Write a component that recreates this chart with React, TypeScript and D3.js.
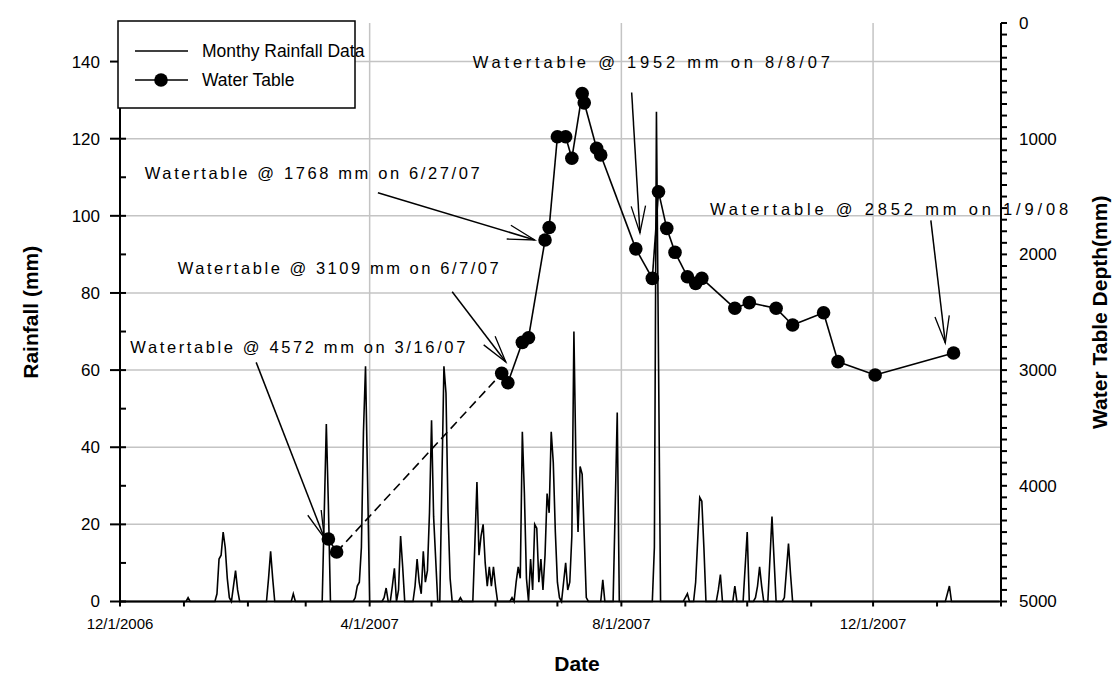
import React from "react";
import * as d3 from "d3";

// ---- data ----
const parseDay = d3.utcParse("%Y-%m-%d");

// Daily rainfall (mm); days not listed had no rain
const rainfallDays: [string, number][] = [
  ["2007-01-03", 1], ["2007-01-17", 2], ["2007-01-18", 11], ["2007-01-19", 12],
  ["2007-01-20", 18], ["2007-01-21", 14], ["2007-01-22", 6], ["2007-01-23", 1],
  ["2007-01-25", 4], ["2007-01-26", 8], ["2007-01-27", 3],
  ["2007-02-11", 6], ["2007-02-12", 13], ["2007-02-13", 6], ["2007-02-23", 2],
  ["2007-03-10", 23], ["2007-03-11", 46], ["2007-03-12", 25],
  ["2007-03-25", 1], ["2007-03-26", 4], ["2007-03-27", 5], ["2007-03-28", 14],
  ["2007-03-29", 44], ["2007-03-30", 61], ["2007-03-31", 31],
  ["2007-04-08", 1], ["2007-04-09", 3.5], ["2007-04-12", 4], ["2007-04-13", 8.6],
  ["2007-04-15", 3], ["2007-04-16", 17], ["2007-04-17", 9],
  ["2007-04-23", 4], ["2007-04-24", 11], ["2007-04-25", 5], ["2007-04-26", 2],
  ["2007-04-27", 13], ["2007-04-28", 5], ["2007-04-29", 8], ["2007-04-30", 23],
  ["2007-05-01", 47], ["2007-05-02", 22], ["2007-05-03", 11],
  ["2007-05-06", 31], ["2007-05-07", 61], ["2007-05-08", 54], ["2007-05-09", 23],
  ["2007-05-10", 6], ["2007-05-15", 1],
  ["2007-05-22", 15], ["2007-05-23", 31], ["2007-05-24", 12], ["2007-05-25", 17],
  ["2007-05-26", 20], ["2007-05-27", 10], ["2007-05-28", 4], ["2007-05-29", 9],
  ["2007-05-30", 4], ["2007-05-31", 9], ["2007-06-01", 4],
  ["2007-06-09", 1], ["2007-06-11", 5], ["2007-06-12", 9], ["2007-06-13", 6],
  ["2007-06-14", 44], ["2007-06-15", 28], ["2007-06-16", 6],
  ["2007-06-18", 11], ["2007-06-19", 3], ["2007-06-20", 20], ["2007-06-21", 19],
  ["2007-06-22", 5], ["2007-06-23", 11], ["2007-06-24", 3], ["2007-06-25", 12],
  ["2007-06-26", 28], ["2007-06-27", 23], ["2007-06-28", 44], ["2007-06-29", 36],
  ["2007-06-30", 18], ["2007-07-01", 5], ["2007-07-02", 1],
  ["2007-07-04", 5], ["2007-07-05", 10], ["2007-07-06", 3], ["2007-07-07", 5],
  ["2007-07-08", 17], ["2007-07-09", 70], ["2007-07-10", 35], ["2007-07-11", 18],
  ["2007-07-12", 35], ["2007-07-13", 33], ["2007-07-14", 17], ["2007-07-15", 1],
  ["2007-07-23", 5.6], ["2007-07-29", 24], ["2007-07-30", 49],
  ["2007-08-17", 14], ["2007-08-18", 127], ["2007-08-19", 63],
  ["2007-09-01", 1], ["2007-09-02", 2],
  ["2007-09-06", 5], ["2007-09-07", 16], ["2007-09-08", 27], ["2007-09-09", 26],
  ["2007-09-10", 14], ["2007-09-17", 3], ["2007-09-18", 7], ["2007-09-25", 4],
  ["2007-09-30", 9], ["2007-10-01", 18],
  ["2007-10-05", 1], ["2007-10-06", 4], ["2007-10-07", 9], ["2007-10-08", 4],
  ["2007-10-12", 11], ["2007-10-13", 22], ["2007-10-14", 11],
  ["2007-10-19", 1], ["2007-10-20", 8], ["2007-10-21", 15], ["2007-10-22", 7],
  ["2008-01-06", 2], ["2008-01-07", 4],
];

// Water table depth below surface (mm)
const waterTable: [string, number][] = [
  ["2007-03-12", 4460], ["2007-03-16", 4572],
  ["2007-06-04", 3028], ["2007-06-07", 3109], ["2007-06-14", 2760],
  ["2007-06-17", 2720], ["2007-06-25", 1876], ["2007-06-27", 1768],
  ["2007-07-01", 983], ["2007-07-05", 983], ["2007-07-08", 1169],
  ["2007-07-13", 610], ["2007-07-14", 690], ["2007-07-20", 1083],
  ["2007-07-22", 1141], ["2007-08-08", 1952], ["2007-08-16", 2207],
  ["2007-08-19", 1458], ["2007-08-23", 1775], ["2007-08-27", 1982],
  ["2007-09-02", 2193], ["2007-09-06", 2250], ["2007-09-09", 2207],
  ["2007-09-25", 2466], ["2007-10-02", 2417], ["2007-10-15", 2466],
  ["2007-10-23", 2610], ["2007-11-07", 2504], ["2007-11-14", 2927],
  ["2007-12-02", 3042], ["2008-01-09", 2852],
];

const rainTicks = [0, 20, 40, 60, 80, 100, 120, 140];
const depthTicks = [0, 1000, 2000, 3000, 4000, 5000];
const dateTicks = ["2006-12-01", "2007-04-01", "2007-08-01", "2007-12-01"];
const dateTickLabels = ["12/1/2006", "4/1/2007", "8/1/2007", "12/1/2007"];

// Callouts: label start (date, rainfall), arrow tail (date, rainfall), arrow tip (date, depth)
const callouts = [
  { text: "Watertable @ 4572 mm on 3/16/07", at: ["2006-12-06", 66], tail: ["2007-02-05", 62], tip: ["2007-03-10", 4450], len: 335 },
  { text: "Watertable @ 3109 mm on 6/7/07", at: ["2006-12-29", 86.5], tail: ["2007-05-11", 80.3], tip: ["2007-06-06", 2930], len: 321 },
  { text: "Watertable @ 1768 mm on 6/27/07", at: ["2006-12-13", 111], tail: ["2007-04-05", 106], tip: ["2007-06-20", 1875], len: 335 },
  { text: "Watertable @ 1952 mm on 8/8/07", at: ["2007-05-21", 139.7], tail: ["2007-08-06", 132], tip: ["2007-08-10", 1815], len: 357 },
  { text: "Watertable @ 2852 mm on 1/9/08", at: ["2007-09-13", 101.7], tail: ["2007-12-29", 98.8], tip: ["2008-01-05", 2766], len: 358 },
];

// ---- layout ----
const W = 1118;
const H = 676;
const left = 120;
const right = 1001;
const top = 23;
const bottom = 601.5;
const FONT = "'Liberation Sans', Arial, sans-serif";

export default function App() {
  const start = parseDay("2006-12-01")!;
  const end = parseDay("2008-02-01")!;
  const x = d3.scaleUtc().domain([start, end]).range([left, right]);
  const yRain = d3.scaleLinear().domain([0, 150]).range([bottom, top]);
  const yDepth = d3.scaleLinear().domain([0, 5000]).range([top, bottom]);

  const rainMap = new Map(rainfallDays.map(([d, v]) => [d, v]));
  const fmt = d3.utcFormat("%Y-%m-%d");
  const daily = d3.utcDay.range(start, end).map((d) => ({ d, v: rainMap.get(fmt(d)) ?? 0 }));

  const rainLine = d3
    .line<{ d: Date; v: number }>()
    .x((p) => x(p.d))
    .y((p) => yRain(p.v));

  const wt = waterTable.map(([d, v]) => ({ d: parseDay(d)!, v }));
  // segments: dashed across the long gap without readings
  const segs: { a: typeof wt[0]; b: typeof wt[0]; dashed: boolean }[] = [];
  for (let i = 1; i < wt.length; i++) {
    const gapDays = (wt[i].d.getTime() - wt[i - 1].d.getTime()) / 864e5;
    segs.push({ a: wt[i - 1], b: wt[i], dashed: gapDays > 45 });
  }

  const months = d3.utcMonth.range(start, d3.utcDay.offset(end, 1));
  const minorRain = d3.range(10, 150, 20);
  const minorDepth = d3.range(0, 5001, 100);

  const arrowHead = (x1: number, y1: number, x2: number, y2: number, len = 28, ang = 0.26) => {
    const a = Math.atan2(y1 - y2, x1 - x2);
    const p1 = [x2 + len * Math.cos(a + ang), y2 + len * Math.sin(a + ang)];
    const p2 = [x2 + len * Math.cos(a - ang), y2 + len * Math.sin(a - ang)];
    return `M${p1[0]},${p1[1]}L${x2},${y2}L${p2[0]},${p2[1]}`;
  };

  return (
    <svg
      width={W}
      height={H}
      style={{ position: "absolute", left: 0, top: 0, background: "#fff" }}
      fontFamily={FONT}
    >
      {/* gridlines */}
      <g stroke="#c4c4c4" strokeWidth={1.5}>
        {rainTicks.filter((t) => t > 0).map((t) => (
          <line key={"h" + t} x1={left} x2={right} y1={yRain(t)} y2={yRain(t)} />
        ))}
        {dateTicks.slice(1).map((t) => (
          <line key={"v" + t} x1={x(parseDay(t)!)} x2={x(parseDay(t)!)} y1={top} y2={bottom} />
        ))}
      </g>

      {/* rainfall */}
      <path d={rainLine(daily) ?? ""} fill="none" stroke="#000" strokeWidth={1.6} strokeLinejoin="miter" />

      {/* water table */}
      <g stroke="#000" strokeWidth={1.6} fill="none">
        {segs.map((s, i) => (
          <line
            key={i}
            x1={x(s.a.d)}
            y1={yDepth(s.a.v)}
            x2={x(s.b.d)}
            y2={yDepth(s.b.v)}
            strokeDasharray={s.dashed ? "9 5" : undefined}
          />
        ))}
      </g>
      <g fill="#000">
        {wt.map((p, i) => (
          <circle key={i} cx={x(p.d)} cy={yDepth(p.v)} r={6.8} />
        ))}
      </g>

      {/* axes */}
      <g stroke="#000" strokeWidth={2}>
        <line x1={left} x2={left} y1={top} y2={bottom} />
        <line x1={right} x2={right} y1={top} y2={bottom} />
        <line x1={left} x2={right} y1={bottom} y2={bottom} />
        {rainTicks.map((t) => (
          <line key={"lt" + t} x1={left - 10} x2={left + 6} y1={yRain(t)} y2={yRain(t)} />
        ))}
        {minorRain.map((t) => (
          <line key={"lm" + t} x1={left} x2={left + 6} y1={yRain(t)} y2={yRain(t)} />
        ))}
        {minorDepth.map((t) => (
          <line key={"rm" + t} x1={right} x2={right + 6} y1={yDepth(t)} y2={yDepth(t)} />
        ))}
        {months.map((m) => (
          <line key={"bm" + m.getTime()} x1={x(m)} x2={x(m)} y1={bottom} y2={bottom + 5} />
        ))}
      </g>

      {/* tick labels */}
      <g fontSize={17} fill="#000">
        {rainTicks.map((t) => (
          <text key={"ll" + t} x={left - 20} y={yRain(t)} dy="0.35em" textAnchor="end">
            {t}
          </text>
        ))}
        {depthTicks.map((t) => (
          <text key={"rl" + t} x={right + 18} y={yDepth(t)} dy="0.35em" textAnchor="start">
            {t}
          </text>
        ))}
      </g>
      <g fontSize={15} fill="#000">
        {dateTicks.map((t, i) => (
          <text key={"bl" + t} x={x(parseDay(t)!)} y={bottom + 22} dy="0.35em" textAnchor="middle">
            {dateTickLabels[i]}
          </text>
        ))}
      </g>

      {/* axis titles */}
      <text x={577} y={671} textAnchor="middle" fontSize={21} fontWeight="bold">
        Date
      </text>
      <text
        transform={`translate(31,${(top + bottom) / 2}) rotate(-90)`}
        textAnchor="middle"
        dy="0.35em"
        fontSize={21}
        fontWeight="bold"
      >
        Rainfall (mm)
      </text>
      <text
        transform={`translate(1100,${(top + bottom) / 2}) rotate(-90)`}
        textAnchor="middle"
        dy="0.35em"
        fontSize={21}
        fontWeight="bold"
      >
        Water Table Depth(mm)
      </text>

      {/* callouts */}
      <g fontSize={16.5} fill="#000">
        {callouts.map((c) => {
          const tx = x(parseDay(c.at[0] as string)!);
          const ty = yRain(c.at[1] as number);
          const x1 = x(parseDay(c.tail[0] as string)!);
          const y1 = yRain(c.tail[1] as number);
          const x2 = x(parseDay(c.tip[0] as string)!);
          const y2 = yDepth(c.tip[1] as number);
          return (
            <g key={c.text}>
              <text x={tx} y={ty} dy="0.35em" textLength={c.len} lengthAdjust="spacing">
                {c.text}
              </text>
              <line x1={x1} y1={y1} x2={x2} y2={y2} stroke="#000" strokeWidth={1.5} />
              <path d={arrowHead(x1, y1, x2, y2)} fill="none" stroke="#000" strokeWidth={1.3} />
            </g>
          );
        })}
      </g>

      {/* legend */}
      <g>
        <rect x={118} y={21} width={237} height={87} fill="#fff" stroke="#000" strokeWidth={1.5} />
        <line x1={135} x2={188} y1={51} y2={51} stroke="#000" strokeWidth={1.6} />
        <line x1={135} x2={188} y1={80} y2={80} stroke="#000" strokeWidth={1.6} />
        <circle cx={161} cy={80} r={6.8} fill="#000" />
        <text x={202} y={51} dy="0.35em" fontSize={17.5}>
          Monthy Rainfall Data
        </text>
        <text x={202} y={80} dy="0.35em" fontSize={17.5}>
          Water Table
        </text>
      </g>
    </svg>
  );
}
